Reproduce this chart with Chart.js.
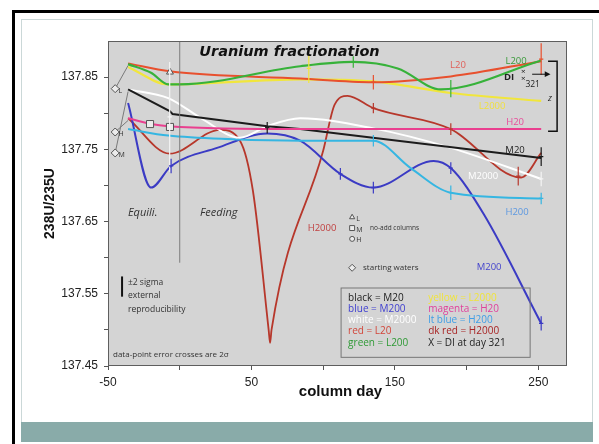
<!DOCTYPE html>
<html>
<head>
<meta charset="utf-8">
<title>Uranium fractionation</title>
<script src="https://cdn.jsdelivr.net/npm/chart.js@4.4.0/dist/chart.umd.min.js"></script>
<style>
  body { margin: 0; background: #fff; }
  #wrap { position: relative; width: 599px; height: 444px; overflow: hidden; }
  .topBar { position: absolute; left: 12px; top: 10px; width: 587px; height: 3px; background: #000; }
  .leftBar { position: absolute; left: 12px; top: 10px; width: 3px; height: 434px; background: #000; }
  .panel { position: absolute; left: 21px; top: 19px; width: 572px; height: 423px; border: 1px solid #cbd8d8; box-sizing: border-box; }
  .teal { position: absolute; left: 21px; top: 422px; width: 572px; height: 20px; background: #89aba9; }
  canvas { position: absolute; left: 0; top: 0; }
</style>
</head>
<body>
<div id="wrap">
  <div class="topBar"></div>
  <div class="leftBar"></div>
  <div class="panel"></div>
  <div class="teal"></div>
  <canvas id="grafica" width="599" height="444"></canvas>
</div>
<script>
// ---- valores (dia de columna / 238U/235U)
const l20Days = [-36, -7, 84, 135, 189, 252];
const l20Vals = [137.869, 137.858, 137.848, 137.843, 137.851, 137.872];

const l200Days = [-36, -20, -8, 0, 84, 121, 152, 182, 252];
const l200Vals = [137.868, 137.856, 137.840, 137.840, 137.865, 137.871, 137.862, 137.833, 137.873];

const l2000Days = [-36, -8, 84, 135, 189, 252];
const l2000Vals = [137.864, 137.840, 137.847, 137.844, 137.828, 137.817];

const m20Days = [-36, -7, -5, 61, 84, 252];
const m20Vals = [137.833, 137.803, 137.799, 137.782, 137.778, 137.738];

const m200Days = [-36, -20, -6, 26, 61, 84, 112, 135, 177, 189, 212, 252];
const m200Vals = [137.814, 137.697, 137.727, 137.752, 137.772, 137.762, 137.716, 137.697, 137.734, 137.724, 137.660, 137.509];

const m2000Days = [-36, -8, 15, 42, 61, 84, 135, 189, 252];
const m2000Vals = [137.833, 137.821, 137.793, 137.766, 137.782, 137.793, 137.779, 137.752, 137.709];

const h20Days = [-36, -20, -8, 84, 252];
const h20Vals = [137.793, 137.785, 137.782, 137.778, 137.778];

const h200Days = [-36, -8, 37, 84, 135, 161, 189, 252];
const h200Vals = [137.778, 137.769, 137.764, 137.762, 137.762, 137.724, 137.690, 137.682];

const h2000Days = [-36, -7, 28, 42, 51, 62, 63, 64, 100, 108, 117, 135, 189, 238, 252];
const h2000Vals = [137.793, 137.744, 137.777, 137.762, 137.693, 137.500, 137.482, 137.500, 137.748, 137.812, 137.824, 137.807, 137.778, 137.711, 137.745];

// aguas iniciales (L, H, M) y columnas sin adicion
const startDays = [-45, -45, -45];
const startVals = [137.834, 137.774, 137.745];
const startLinks = [137.866, 137.790, 137.830];
const noAddDays = [-6.8, -20.7, -6.8];
const noAddVals = [137.857, 137.785, 137.781];

// cruces de error (dia, valor, semi-longitud, serie)
const errDays = [-7, -6, 61, 90, 121, 112, 135, 135, 135, 135, 189, 189, 189, 189, 236, 252, 252, 252, 252, 252];
const errVals = [137.795, 137.727, 137.780, 137.862, 137.871, 137.716, 137.843, 137.807, 137.762, 137.697, 137.834, 137.778, 137.690, 137.724, 137.713, 137.875, 137.740, 137.682, 137.509, 137.709];
const errHalf = [0.076, 0.010, 0.008, 0.020, 0.008, 0.008, 0.010, 0.007, 0.008, 0.008, 0.012, 0.008, 0.010, 0.008, 0.013, 0.022, 0.013, 0.008, 0.010, 0.010];
const errSeries = ['white', 'm200', 'm20', 'l2000', 'l200', 'm200', 'l20', 'h2000', 'h200', 'm200', 'l200', 'h2000', 'h200', 'm200', 'h2000', 'l20', 'm20', 'h200', 'm200', 'white'];

// ticks del eje
const xTicks = [-50, 0, 50, 100, 150, 200, 250];
const xTickLabels = [-50, 50, 150, 250];
const yTicks = [137.45, 137.5, 137.55, 137.6, 137.65, 137.7, 137.75, 137.8, 137.85];
const yTickLabels = [137.45, 137.55, 137.65, 137.75, 137.85];

const colors = {
    l20: '#e8502e', l200: '#37b23a', l2000: '#f1e63c',
    m20: '#1c1c1c', m200: '#3b3bc4', m2000: '#ffffff', white: '#f4f4f4',
    h20: '#ea3f8f', h200: '#35b6e2', h2000: '#b7372b'
};

function zip(days, vals) {
    return days.map((d, i) => ({ x: d, y: vals[i] }));
}

function serie(days, vals, color, width, straight) {
    return {
        data: zip(days, vals),
        borderColor: color,
        backgroundColor: color,
        showLine: true,
        pointRadius: 0,
        borderWidth: width || 2,
        cubicInterpolationMode: straight ? 'default' : 'monotone',
        tension: straight ? 0 : 0.4
    };
}

function marker(days, vals, style, r) {
    return {
        data: zip(days, vals),
        showLine: false,
        pointStyle: style,
        pointRadius: r,
        pointBorderWidth: 1,
        pointBorderColor: '#555',
        pointBackgroundColor: '#ececec'
    };
}

// lineas grises de las aguas iniciales a las columnas
const links = startDays.map((d, i) => serie([d, -36], [startVals[i], startLinks[i]], '#7a7a7a', 1, true));

// texto
function txt(ctx, s, px, py, font, color, align) {
    ctx.font = font;
    ctx.fillStyle = color;
    ctx.textAlign = align || 'center';
    ctx.textBaseline = 'middle';
    ctx.fillText(s, px, py);
}

const anotaciones = {
    id: 'anotaciones',
    beforeDraw(chart) {
        const { ctx, chartArea: a } = chart;
        ctx.save();
        ctx.fillStyle = '#d4d4d4';
        ctx.fillRect(a.left, a.top, a.right - a.left, a.bottom - a.top);
        ctx.restore();
    },
    afterDatasetsDraw(chart) {
        const { ctx, chartArea: a, scales: { x, y } } = chart;
        const X = d => x.getPixelForValue(d);
        const Y = v => y.getPixelForValue(v);
        ctx.save();

        // separador Equili. / Feeding
        ctx.strokeStyle = '#7d7d7d';
        ctx.lineWidth = 1;
        ctx.beginPath();
        ctx.moveTo(X(0), a.top);
        ctx.lineTo(X(0), Y(137.593));
        ctx.stroke();

        // cruces de error
        errDays.forEach((d, i) => {
            ctx.strokeStyle = colors[errSeries[i]];
            ctx.lineWidth = 1.2;
            ctx.beginPath();
            ctx.moveTo(X(d), Y(errVals[i] - errHalf[i]));
            ctx.lineTo(X(d), Y(errVals[i] + errHalf[i]));
            ctx.moveTo(X(d - 1.5), Y(errVals[i]));
            ctx.lineTo(X(d + 1.5), Y(errVals[i]));
            ctx.stroke();
        });

        // titulo
        txt(ctx, 'Uranium fractionation', X(76.5), Y(137.885), 'italic bold 14.5px "DejaVu Sans"', '#111');
        txt(ctx, 'Equili.', X(-36.1), Y(137.662), 'italic 11px "Open Sans"', '#333', 'left');
        txt(ctx, 'Feeding', X(14.2), Y(137.662), 'italic 11px "Open Sans"', '#333', 'left');

        // etiquetas de series
        const f = '9.5px "Open Sans"';
        txt(ctx, 'L20', X(194), Y(137.867), f, '#e0605a');
        txt(ctx, 'L200', X(234.5), Y(137.872), f, '#3a9a3a');
        txt(ctx, 'DI', X(229.6), Y(137.850), 'bold 9.5px "Open Sans"', '#222');
        txt(ctx, '×', X(239.6), Y(137.858), '8px "Open Sans"', '#222');
        txt(ctx, '×', X(239.6), Y(137.848), '8px "Open Sans"', '#222');
        txt(ctx, '321', X(241), Y(137.840), '8.5px "Open Sans"', '#222', 'left');
        txt(ctx, 'z', X(258.2), Y(137.820), 'italic 9px "Open Sans"', '#222');
        txt(ctx, 'L2000', X(217.8), Y(137.809), f, '#f0e040');
        txt(ctx, 'H20', X(233.8), Y(137.788), f, '#e84c9a');
        txt(ctx, 'M20', X(233.8), Y(137.749), f, '#222');
        txt(ctx, 'M2000', X(211.5), Y(137.712), f, '#ffffff');
        txt(ctx, 'H200', X(235.2), Y(137.663), f, '#5d98e0');
        txt(ctx, 'H2000', X(99.2), Y(137.641), f, '#c04040');
        txt(ctx, 'M200', X(215.7), Y(137.586), f, '#4545cc');

        // flecha DI y corchete z
        ctx.strokeStyle = '#111';
        ctx.fillStyle = '#111';
        ctx.lineWidth = 1;
        ctx.beginPath();
        ctx.moveTo(X(245.7), Y(137.854));
        ctx.lineTo(X(256), Y(137.854));
        ctx.stroke();
        ctx.beginPath();
        ctx.moveTo(X(258.5), Y(137.854));
        ctx.lineTo(X(254.5), Y(137.858));
        ctx.lineTo(X(254.5), Y(137.850));
        ctx.closePath();
        ctx.fill();
        ctx.lineWidth = 1.5;
        ctx.beginPath();
        ctx.moveTo(X(256.8), Y(137.872));
        ctx.lineTo(X(263.1), Y(137.872));
        ctx.lineTo(X(263.1), Y(137.775));
        ctx.lineTo(X(256.8), Y(137.775));
        ctx.stroke();

        // letras de aguas iniciales
        const sf = '7px "Open Sans"';
        txt(ctx, 'L', X(-42.6), Y(startVals[0] - 0.003), sf, '#333', 'left');
        txt(ctx, 'H', X(-42.6), Y(startVals[1] - 0.003), sf, '#333', 'left');
        txt(ctx, 'M', X(-42.6), Y(startVals[2] - 0.003), sf, '#333', 'left');

        // clave de marcadores
        txt(ctx, 'L', X(123), Y(137.653), sf, '#333', 'left');
        txt(ctx, 'M', X(123), Y(137.639), sf, '#333', 'left');
        txt(ctx, 'H', X(123), Y(137.624), sf, '#333', 'left');
        txt(ctx, 'no-add columns', X(132.7), Y(137.641), '6.5px "Open Sans"', '#333', 'left');
        txt(ctx, 'starting waters', X(127.8), Y(137.586), '8px "Open Sans"', '#333', 'left');

        // reproducibilidad
        ctx.strokeStyle = '#111';
        ctx.lineWidth = 2;
        ctx.beginPath();
        ctx.moveTo(X(-40.2), Y(137.574));
        ctx.lineTo(X(-40.2), Y(137.546));
        ctx.stroke();
        const rf = '8.5px "Open Sans"';
        txt(ctx, '±2 sigma', X(-36.1), Y(137.565), rf, '#333', 'left');
        txt(ctx, 'external', X(-36.1), Y(137.547), rf, '#333', 'left');
        txt(ctx, 'reproducibility', X(-36.1), Y(137.528), rf, '#333', 'left');
        txt(ctx, 'data-point error crosses are 2σ', X(-46.5), Y(137.465), '8px "Open Sans"', '#333', 'left');

        // cuadro de colores
        ctx.strokeStyle = '#777';
        ctx.lineWidth = 1;
        ctx.strokeRect(X(112.5), Y(137.558), X(244.3) - X(112.5), Y(137.462) - Y(137.558));
        const lf = '10px "Open Sans"';
        const rows = [137.544, 137.529, 137.514, 137.498, 137.482];
        const c1 = [['black = M20', '#222'], ['blue = M200', '#4040d0'], ['white = M2000', '#ffffff'], ['red = L20', '#d2463a'], ['green = L200', '#2f9a36']];
        const c2 = [['yellow = L2000', '#f0e43c'], ['magenta = H20', '#e0409c'], ['lt blue = H200', '#3f9ee6'], ['dk red = H2000', '#a82424'], ['X = DI at day 321', '#222']];
        rows.forEach((v, i) => {
            txt(ctx, c1[i][0], X(117.4), Y(v), lf, c1[i][1], 'left');
            txt(ctx, c2[i][0], X(173.2), Y(v), lf, c2[i][1], 'left');
        });

        ctx.restore();
    },
    afterDraw(chart) {
        const { ctx, chartArea: a } = chart;
        ctx.save();
        ctx.strokeStyle = '#5e5e5e';
        ctx.lineWidth = 1;
        ctx.strokeRect(a.left + 0.5, a.top + 0.5, a.right - a.left - 1, a.bottom - a.top - 1);

        // titulos de ejes
        txt(ctx, 'column day', (a.left + a.right) / 2 + 3, a.bottom + 26, 'bold 15px "Liberation Sans"', '#111');
        ctx.translate(a.left - 58, (a.top + a.bottom) / 2);
        ctx.rotate(-Math.PI / 2);
        txt(ctx, '238U/235U', 0, 0, 'bold 14px "Liberation Sans"', '#111');
        ctx.restore();
    }
};

new Chart(document.getElementById('grafica'), {
    type: 'scatter',
    data: {
        datasets: [
            marker(startDays, startVals, 'rectRot', 4),
            marker([-6.8], [noAddVals[0]], 'triangle', 4),
            marker(noAddDays.slice(1), noAddVals.slice(1), 'rect', 5),
            marker([120.2], [137.656], 'triangle', 3),
            marker([120.2], [137.641], 'rect', 3.5),
            marker([120.2], [137.626], 'circle', 2.5),
            marker([120.2], [137.586], 'rectRot', 3.5),
            serie(h20Days, h20Vals, colors.h20, 2),
            serie(m20Days, m20Vals, colors.m20, 2, true),
            serie(m2000Days, m2000Vals, colors.m2000, 2),
            serie(l200Days, l200Vals, colors.l200, 2.2),
            serie(l20Days, l20Vals, colors.l20, 2),
            serie(l2000Days, l2000Vals, colors.l2000, 2.2),
            serie(h200Days, h200Vals, colors.h200, 2),
            serie(m200Days, m200Vals, colors.m200, 2),
            serie(h2000Days, h2000Vals, colors.h2000, 1.8),
            ...links
        ]
    },
    options: {
        responsive: false,
        animation: false,
        layout: { padding: { left: 0, top: 41, right: 32, bottom: 0 } },
        plugins: {
            legend: { display: false },
            tooltip: { enabled: false }
        },
        scales: {
            x: {
                type: 'linear',
                min: -50,
                max: 270,
                afterFit: s => { s.height = 78; },
                afterBuildTicks: s => { s.ticks = xTicks.map(v => ({ value: v })); },
                grid: { drawOnChartArea: false, tickLength: 4, color: '#555' },
                border: { display: false },
                ticks: {
                    autoSkip: false,
                    maxRotation: 0,
                    padding: 5,
                    color: '#222',
                    font: { family: 'Liberation Sans', size: 12 },
                    callback: v => xTickLabels.includes(v) ? String(v) : ''
                }
            },
            y: {
                min: 137.45,
                max: 137.9,
                afterFit: s => { s.width = 108; },
                afterBuildTicks: s => { s.ticks = yTicks.map(v => ({ value: v })); },
                grid: { drawOnChartArea: false, tickLength: 4, color: '#555' },
                border: { display: false },
                ticks: {
                    autoSkip: false,
                    padding: 6,
                    color: '#222',
                    font: { family: 'Liberation Sans', size: 12 },
                    callback: v => {
                        const r = Math.round(v * 100) / 100;
                        return yTickLabels.includes(r) ? r.toFixed(2) : '';
                    }
                }
            }
        }
    },
    plugins: [anotaciones]
});
</script>
</body>
</html>
